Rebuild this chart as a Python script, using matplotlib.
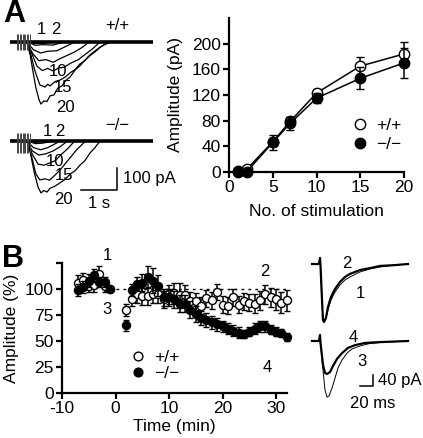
import numpy as np
import matplotlib
matplotlib.use('Agg')
import matplotlib.pyplot as plt
from matplotlib.lines import Line2D

plt.rcParams['font.family'] = ['Liberation Sans', 'DejaVu Sans']
plt.rcParams['font.size'] = 12
plt.rcParams['axes.unicode_minus'] = False

# ---------------- data ----------------
# Panel A, right: amplitude vs number of stimuli
stim_n = [1, 2, 5, 7, 10, 15, 20]
amp_wt = [2, 4, 47, 79, 123, 165, 184]
err_wt = [2, 3, 6, 7, 6, 14, 18]
amp_ko = [0, 0, 46, 76, 115, 146, 170]
err_ko = [2, 2, 11, 10, 8, 17, 23]

# Panel B: amplitude (%) vs time (min)
t_wt = [-7, -6, -5, -4, -3, -2, -1,
        2, 3, 4, 5, 6, 7, 8, 9, 10, 11, 12, 13, 14, 15, 16, 17, 18, 19, 20,
        21, 22, 23, 24, 25, 26, 27, 28, 29, 30, 31, 32]
amp_wt_b = [106, 109, 103, 104, 114, 103, 100,
            80, 90, 95, 93, 93, 95, 95, 90, 95, 96, 94, 94, 88, 88, 84, 91, 89, 97, 85,
            84, 92, 85, 88, 87, 86, 89, 95, 92, 90, 87, 89]
err_wt_b = [7, 6, 6, 7, 8, 6, 2,
            6, 6, 8, 8, 8, 8, 8, 8, 9, 10, 12, 10, 9, 8, 8, 8, 8, 8, 8,
            8, 8, 8, 8, 8, 9, 9, 9, 9, 10, 10, 10]
t_ko = [-7, -6, -5, -4, -3, -2, -1,
        2, 3, 4, 5, 6, 7, 8, 9, 10, 11, 12, 13, 14, 15, 16, 17, 18, 19, 20,
        21, 22, 23, 24, 25, 26, 27, 28, 29, 30, 31, 32]
amp_ko_b = [99, 102, 108, 113, 107, 107, 100,
            65, 99, 105, 106, 112, 108, 103, 92, 92, 90, 86, 86, 80, 76, 72, 70, 68, 66, 64,
            62, 60, 58, 57, 59, 62, 64, 64, 61, 59, 58, 54]
err_ko_b = [6, 6, 6, 6, 5, 5, 2,
            5, 6, 7, 8, 10, 12, 10, 8, 8, 8, 8, 8, 8, 8, 7, 7, 6, 6, 5,
            5, 5, 5, 4, 4, 5, 5, 5, 4, 4, 4, 4]

# Panel A, left: example current traces (time s, current pA)
tr_wt = {
    '20': ([0, 0.47, 0.56, 0.64, 0.72, 0.81, 0.86, 0.94, 1.03, 1.11, 1.22, 1.33, 1.44,
            1.56, 1.67, 1.81, 1.94, 2.08, 2.22, 2.36, 2.5, 2.67, 2.83, 3.97],
           [0, 0, -59, -136, -209, -264, -282, -268, -270, -245, -241, -209, -200,
            -173, -159, -127, -109, -82, -59, -41, -23, -9, 0, 0]),
    '15': ([0, 0.47, 0.56, 0.69, 0.83, 0.97, 1.05, 1.11, 1.25, 1.39, 1.53, 1.67, 1.81,
            1.94, 2.08, 2.22, 2.36, 2.5, 2.72, 3.97],
           [0, 0, -45, -130, -195, -205, -192, -200, -180, -173, -160, -140, -125,
            -100, -85, -62, -45, -25, 0, 0]),
    '10': ([0, 0.47, 0.6, 0.75, 0.9, 1.05, 1.2, 1.35, 1.5, 1.7, 1.9, 2.1, 2.3, 2.5, 3.97],
           [0, 0, -50, -110, -130, -120, -132, -118, -115, -95, -80, -55, -30, 0, 0]),
    '7': ([0, 0.47, 0.62, 0.8, 1.0, 1.2, 1.4, 1.6, 1.8, 2.0, 2.2, 3.97],
          [0, 0, -50, -85, -80, -92, -75, -60, -45, -25, 0, 0]),
    '5': ([0, 0.47, 0.65, 0.85, 1.05, 1.3, 1.55, 1.8, 3.97],
          [0, 0, -35, -50, -42, -40, -20, 0, 0]),
    '2': ([0, 0.5, 0.7, 0.9, 1.2, 1.5, 3.97], [0, 0, -15, -12, -14, 0, 0]),
    '1': ([0, 0.5, 0.7, 0.9, 1.2, 3.97], [0, 0, -7, -6, 0, 0]),
}
tr_ko = {
    '20': ([0, 0.47, 0.56, 0.67, 0.78, 0.86, 0.94, 1.03, 1.11, 1.25, 1.39, 1.53, 1.67,
            1.81, 1.94, 2.08, 2.22, 2.36, 2.5, 3.97],
           [0, 0, -50, -140, -210, -236, -225, -232, -215, -205, -190, -175, -150,
            -135, -110, -90, -55, -30, 0, 0]),
    '15': ([0, 0.47, 0.6, 0.72, 0.83, 0.97, 1.1, 1.25, 1.4, 1.55, 1.7, 1.85, 2.1, 3.97],
           [0, 0, -70, -150, -177, -172, -178, -155, -130, -100, -70, -40, 0, 0]),
    '10': ([0, 0.47, 0.62, 0.78, 0.95, 1.1, 1.25, 1.4, 1.6, 1.8, 3.97],
           [0, 0, -60, -105, -110, -100, -90, -65, -35, 0, 0]),
    '7': ([0, 0.47, 0.62, 0.8, 1.0, 1.2, 1.4, 1.6, 3.97],
          [0, 0, -45, -64, -58, -45, -25, 0, 0]),
    '5': ([0, 0.47, 0.65, 0.85, 1.05, 1.4, 3.97],
          [0, 0, -30, -40, -30, 0, 0]),
    '2': ([0, 0.5, 0.7, 0.9, 1.2, 3.97], [0, 0, -12, -10, 0, 0]),
    '1': ([0, 0.5, 0.7, 0.9, 3.97], [0, 0, -6, 0, 0]),
}
stim_t = [0.19, 0.23, 0.27, 0.31, 0.35, 0.39, 0.43, 0.47, 0.51, 0.55]

# Panel B, right: example EPSCs (time ms, current pA)
ep_t12 = [0, 10.8, 12.3, 13.1, 15.4, 16.9, 18.5, 21.5, 24.6, 29.2, 35.4, 43.1, 50.8,
          58.5, 73.8, 89.2, 104.6, 127.7, 147.7]
ep_1 = [0, 0, 22, -7, -131, -204, -211, -196, -167, -131, -102, -76, -58,
        -47, -29, -18, -11, -4, 0]
ep_2 = [0, 0, 22, -7, -131, -204, -211, -196, -156, -120, -91, -65, -47,
        -36, -22, -15, -7, -4, 0]
ep_t3 = [0, 10.8, 12.3, 13.1, 16.9, 20.0, 23.1, 26.2, 30.8, 35.4, 40.0, 46.2, 53.8,
         61.5, 73.8, 89.2, 112.3, 147.7]
ep_3 = [0, 0, 22, -7, -105, -178, -204, -200, -171, -135, -98, -69, -44,
        -29, -18, -9, -4, 0]
ep_t4 = [0, 10.8, 12.3, 13.1, 16.9, 20.0, 23.1, 27.7, 32.3, 38.5, 46.2, 55.4, 66.2,
         81.5, 104.6, 147.7]
ep_4 = [0, 0, 22, -7, -87, -116, -120, -113, -91, -65, -44, -25, -15,
        -7, -4, 0]

# ---------------- figure ----------------
W, H = 423, 438
fig = plt.figure(figsize=(W / 100, H / 100), dpi=100)


def px_axes(x0, y0, x1, y1, **kw):
    return fig.add_axes([x0 / W, 1 - y1 / H, (x1 - x0) / W, (y1 - y0) / H], **kw)


TICK_FS = 12.5
LAB_FS = 12.5


def style(ax):
    for s in ('top', 'right'):
        ax.spines[s].set_visible(False)
    for s in ('left', 'bottom'):
        ax.spines[s].set_linewidth(1.6)
    ax.tick_params(direction='out', length=4, width=1.6, labelsize=TICK_FS, pad=2)


ms_a = 7.5
ms_b = 5.8

# ---- Panel A right ----
axA = px_axes(229, 18, 404, 172)
style(axA)
axA.errorbar(stim_n, amp_wt, yerr=err_wt, fmt='o-', color='black', mfc='white',
             mec='black', ms=ms_a, lw=1.1, capsize=3, elinewidth=1.1, clip_on=False,
             zorder=2)
axA.errorbar(stim_n, amp_ko, yerr=err_ko, fmt='o-', color='black', mfc='black',
             mec='black', ms=ms_a, lw=1.1, capsize=3, elinewidth=1.1, clip_on=False,
             zorder=3)
axA.set_xlim(0, 20)
axA.set_ylim(0, 240)
axA.set_xticks([0, 5, 10, 15, 20])
axA.set_yticks([0, 40, 80, 120, 160, 200])
axA.set_xlabel('No. of stimulation', fontsize=LAB_FS, labelpad=6)
axA.set_ylabel('Amplitude (pA)', fontsize=LAB_FS, labelpad=6)
hA = [Line2D([], [], ls='none', marker='o', ms=ms_a, mfc='white', mec='black'),
      Line2D([], [], ls='none', marker='o', ms=ms_a, mfc='black', mec='black')]
axA.legend(hA, ['+/+', '\u2212/\u2212'], frameon=False, loc='center left',
           bbox_to_anchor=(0.66, 0.24), handlelength=1.0, handletextpad=0.4,
           borderaxespad=0, labelspacing=0.2, fontsize=LAB_FS)

# ---- Panel B main ----
axB = px_axes(62, 263, 286.7, 393)
style(axB)
axB.plot([0, 32], [100, 100], ls=(0, (2, 3)), color='black', lw=1, zorder=1)
axB.errorbar(t_wt, amp_wt_b, yerr=err_wt_b, fmt='o', color='black', mfc='white',
             mec='black', ms=ms_b, capsize=2.5, elinewidth=1.1, clip_on=False, zorder=2)
axB.errorbar(t_ko, amp_ko_b, yerr=err_ko_b, fmt='o', color='black', mfc='black',
             mec='black', ms=ms_b, capsize=2.5, elinewidth=1.1, clip_on=False, zorder=3)
axB.set_xlim(-10, 32)
axB.set_ylim(0, 125)
axB.set_xticks([-10, 0, 10, 20, 30])
axB.set_yticks([0, 25, 50, 75, 100, 125])
axB.set_yticklabels(['0', '25', '50', '75', '100', ''])
axB.set_xlabel('Time (min)', fontsize=LAB_FS, labelpad=2)
axB.set_ylabel('Amplitude (%)', fontsize=LAB_FS, labelpad=4)
hB = [Line2D([], [], ls='none', marker='o', ms=ms_b + 0.5, mfc='white', mec='black'),
      Line2D([], [], ls='none', marker='o', ms=ms_b + 0.5, mfc='black', mec='black')]
axB.legend(hB, ['+/+', '\u2212/\u2212'], frameon=False, loc='center left',
           bbox_to_anchor=(0.27, 0.215), handlelength=1.0, handletextpad=0.4,
           borderaxespad=0, labelspacing=0.05, fontsize=LAB_FS)

# ---- Panel A left traces ----
def trace_axes(y_top, y_bot, base_y):
    # 36 px per s, 22 px per 100 pA
    ax = px_axes(10, y_top, 153, y_bot)
    ax.set_xlim(0, 143 / 36)
    ax.set_ylim(-(y_bot - base_y) / 0.22, (base_y - y_top) / 0.22)
    ax.axis('off')
    return ax


axT1 = trace_axes(20, 120, 42)
axT2 = trace_axes(120, 210, 141)
for ax, trs, art in ((axT1, tr_wt, (36, -36)), (axT2, tr_ko, (36, -55))):
    for k, (tt, ii) in trs.items():
        ax.plot(tt, ii, color='black', lw=0.9)
    ax.plot([0, 143 / 36], [0, 0], color='black', lw=2.6, solid_capstyle='butt')
    ax.vlines(stim_t, art[1], art[0], color='#444444', lw=0.7)

# scale bars (1 s, 100 pA)
axT2.plot([1.97, 2.97, 2.97], [-223, -223, -123], color='black', lw=1.1)

# ---- Panel B right EPSC traces ----
def ep_axes(y_top, y_bot, base_y):
    # 13 px per 20 ms, 11 px per 40 pA
    ax = px_axes(305, y_top, 415, y_bot)
    ax.set_xlim(-7 * 20 / 13, 103 * 20 / 13)
    ax.set_ylim(-(y_bot - base_y) * 40 / 11, (base_y - y_top) * 40 / 11)
    ax.axis('off')
    return ax


axE1 = ep_axes(250, 330, 264)
axE2 = ep_axes(330, 410, 341)
axE1.plot(ep_t12, ep_1, color='black', lw=0.7)
axE1.plot(ep_t12, ep_2, color='black', lw=1.6)
axE2.plot(ep_t3, ep_3, color='black', lw=0.7)
axE2.plot(ep_t4, ep_4, color='black', lw=1.6)
axE2.plot([73.8, 93.8, 93.8], [-164, -164, -124], color='black', lw=1.1)

# ---- overlay texts (pixel coordinates) ----
ov = fig.add_axes([0, 0, 1, 1], zorder=10)
ov.set_xlim(0, W)
ov.set_ylim(H, 0)
ov.axis('off')
ov.patch.set_alpha(0)

ov.text(14, 14, 'A', fontsize=22, fontweight='bold', ha='center', va='center')
ov.text(13, 259, 'B', fontsize=22, fontweight='bold', ha='center', va='center')

tkw = dict(fontsize=12, ha='center', va='center')
ov.text(117, 25, '+/+', **tkw)
ov.text(117, 126, '\u2212/\u2212', **tkw)
for s, x, y in (('1', 41, 30), ('2', 56, 30), ('10', 58, 72), ('15', 63, 87),
                ('20', 65, 107), ('1', 47, 132), ('2', 60, 132), ('10', 55, 162),
                ('15', 64, 175), ('20', 63, 199)):
    ov.text(x, y, s, **tkw)
ov.text(123, 178, '100 pA', fontsize=12, ha='left', va='center')
ov.text(99, 203, '1 s', **tkw)

for s, x, y in (('1', 107, 255), ('3', 107, 309), ('2', 265, 272), ('4', 267, 367)):
    ov.text(x, y, s, **tkw)
for s, x, y in (('2', 347, 264), ('1', 360, 293), ('4', 353, 338), ('3', 362, 362)):
    ov.text(x, y, s, **tkw)
ov.text(378, 381, '40 pA', fontsize=12, ha='left', va='center')
ov.text(373, 403, '20 ms', **tkw)

fig.savefig('out.png', dpi=100)
